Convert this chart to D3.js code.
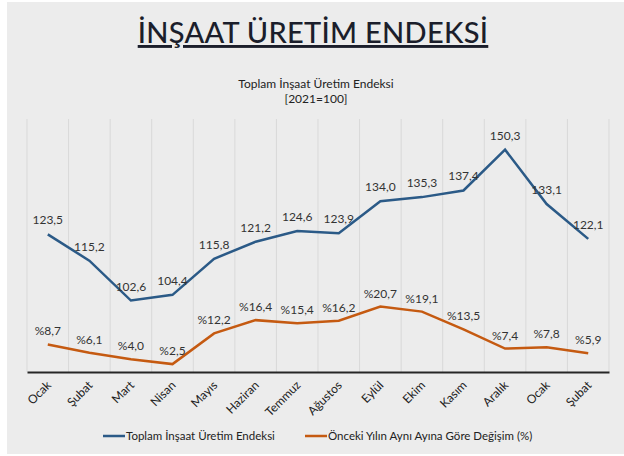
<!DOCTYPE html>
<html>
<head>
<meta charset="utf-8">
<script src="https://cdn.jsdelivr.net/npm/d3@7"></script>
<style>
  body { margin: 0; background: #fff; }
  svg { display: block; font-family: Lato, "Open Sans", sans-serif; }
</style>
</head>
<body>
<div id="chart"></div>
<script>
// Data
const months = ["Ocak", "Şubat", "Mart", "Nisan", "Mayıs", "Haziran", "Temmuz",
  "Ağustos", "Eylül", "Ekim", "Kasım", "Aralık", "Ocak", "Şubat"];
const indexValues = [123.5, 115.2, 102.6, 104.4, 115.8, 121.2, 124.6,
  123.9, 134.0, 135.3, 137.4, 150.3, 133.1, 122.1];
const changeValues = [8.7, 6.1, 4.0, 2.5, 12.2, 16.4, 15.4,
  16.2, 20.7, 19.1, 13.5, 7.4, 7.8, 5.9];
const seriesNames = ["Toplam İnşaat Üretim Endeksi", "Önceki Yılın Aynı Ayına Göre Değişim (%)"];

const width = 624, height = 456;
const margin = { top: 119, right: 15, bottom: 84, left: 27 };
const blue = "#2b5a87", orange = "#c55a11";

const svg = d3.select("#chart").append("svg")
  .attr("width", width)
  .attr("height", height);

// background panel
svg.append("rect")
  .attr("x", 7).attr("y", 2)
  .attr("width", width - 7).attr("height", height - 4)
  .attr("fill", "#ececec");

// titles
svg.append("text")
  .attr("x", 313).attr("y", 43)
  .attr("text-anchor", "middle")
  .attr("font-size", 29)
  .attr("font-weight", 500)
  .attr("letter-spacing", 0.3)
  .attr("fill", "#1b1e2b")
  .attr("text-decoration", "underline")
  .text("İNŞAAT ÜRETİM ENDEKSİ");

svg.append("text")
  .attr("x", 316).attr("y", 88)
  .attr("text-anchor", "middle")
  .attr("font-size", 12)
  .attr("fill", "#222")
  .text("Toplam İnşaat Üretim Endeksi");

svg.append("text")
  .attr("x", 316).attr("y", 103)
  .attr("text-anchor", "middle")
  .attr("font-size", 12)
  .attr("fill", "#222")
  .text("[2021=100]");

// scales
const x = d3.scaleBand()
  .domain(d3.range(months.length))
  .range([margin.left, width - margin.right]);

const yChange = d3.scaleLinear().domain([0, 80]).range([height - margin.bottom, margin.top]);
const yIndex = d3.scaleLinear().domain([80, 160]).range([height - margin.bottom, margin.top]);

const cx = i => x(i) + x.bandwidth() / 2;

// vertical gridlines at band edges
const edges = d3.range(months.length + 1).map(i => margin.left + i * x.bandwidth());
svg.append("g")
  .selectAll("line")
  .data(edges)
  .join("line")
  .attr("x1", d => d).attr("x2", d => d)
  .attr("y1", margin.top).attr("y2", height - margin.bottom)
  .attr("stroke", "#d9d9d9")
  .attr("stroke-width", 1);

// x axis
const xAxis = d3.axisBottom(x)
  .tickSize(0)
  .tickFormat(i => months[i]);

const xAxisG = svg.append("g")
  .attr("transform", `translate(0,${height - margin.bottom})`)
  .call(xAxis);

xAxisG.select(".domain")
  .attr("stroke", "#262626")
  .attr("stroke-width", 2);

xAxisG.selectAll("text")
  .attr("font-family", "Lato, sans-serif")
  .attr("font-size", 12)
  .attr("fill", "#222")
  .attr("text-anchor", "end")
  .attr("dy", null)
  .attr("y", 0)
  .attr("transform", "translate(4,14) rotate(-45)");

// lines
const idxLine = d3.line().x((d, i) => cx(i)).y(d => yIndex(d));
const chgLine = d3.line().x((d, i) => cx(i)).y(d => yChange(d));

svg.append("path")
  .datum(indexValues)
  .attr("fill", "none")
  .attr("stroke", blue)
  .attr("stroke-width", 2.5)
  .attr("d", idxLine);

svg.append("path")
  .datum(changeValues)
  .attr("fill", "none")
  .attr("stroke", orange)
  .attr("stroke-width", 2.5)
  .attr("d", chgLine);

// value labels
const fmt = v => v.toFixed(1).replace(".", ",");

svg.append("g")
  .selectAll("text")
  .data(indexValues)
  .join("text")
  .attr("x", (d, i) => cx(i))
  .attr("y", d => yIndex(d) - 10)
  .attr("text-anchor", "middle")
  .attr("font-size", 12)
  .attr("fill", "#333")
  .text(fmt);

svg.append("g")
  .selectAll("text")
  .data(changeValues)
  .join("text")
  .attr("x", (d, i) => cx(i))
  .attr("y", d => yChange(d) - 9)
  .attr("text-anchor", "middle")
  .attr("font-size", 12)
  .attr("fill", "#333")
  .text(d => "%" + fmt(d));

// legend
const legend = svg.append("g").attr("transform", "translate(0,436)");
const legendItems = [
  { name: seriesNames[0], color: blue, x: 103 },
  { name: seriesNames[1], color: orange, x: 305 }
];
const li = legend.selectAll("g")
  .data(legendItems)
  .join("g")
  .attr("transform", d => `translate(${d.x},0)`);
li.append("line")
  .attr("x1", 0).attr("x2", 22)
  .attr("stroke", d => d.color)
  .attr("stroke-width", 2.5);
li.append("text")
  .attr("x", 23).attr("y", 4)
  .attr("font-size", 11.5)
  .attr("fill", "#222")
  .text(d => d.name);
</script>
</body>
</html>
